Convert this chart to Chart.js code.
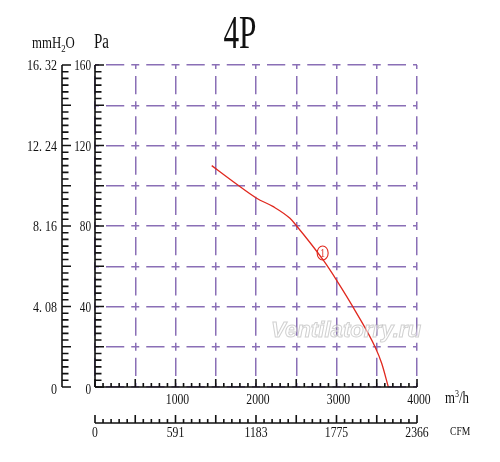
<!DOCTYPE html>
<html>
<head>
<meta charset="utf-8">
<script src="https://cdn.jsdelivr.net/npm/chart.js@4"></script>
<style>
  html, body { margin: 0; padding: 0; background: #fff; }
  canvas { display: block; }
</style>
</head>
<body>
<canvas id="fanChart" width="500" height="462"></canvas>
<script>
// ---------------------------------------------------------
// DATA
// ---------------------------------------------------------
const flowM3h = [1450, 1718, 2008, 2215, 2422, 2505, 2836, 3002, 3251, 3478, 3561, 3644];
const pressurePa = [110, 102, 93.8, 89.6, 83.8, 80, 63, 53, 36.6, 20, 11.8, 0];

const paTicks = [0, 40, 80, 120, 160];
const mmTicks = ['0', '4. 08', '8. 16', '12. 24', '16. 32'];
const m3hTicks = [1000, 2000, 3000, 4000];
const cfmTicks = ['0', '591', '1183', '1775', '2366'];
const cfmTickAt = [0, 1000, 2000, 3000, 4000];

const curveLabel = { x: 2828, y: 66.6, text: '1' };

// ---------------------------------------------------------
// HELPERS
// ---------------------------------------------------------
const SERIF = '"Liberation Serif", "Times New Roman", serif';

// condensed serif text, like the scanned catalogue chart
const drawText = (ctx, s, x, y, size, align, sx) => {
    ctx.save();
    ctx.font = size + 'px ' + SERIF;
    ctx.textBaseline = 'middle';
    ctx.textAlign = 'left';
    const w = ctx.measureText(s).width * sx;
    const x0 = align === 'center' ? x - w / 2 : align === 'right' ? x - w : x;
    ctx.translate(x0, y);
    ctx.scale(sx, 1);
    ctx.fillText(s, 0, 0);
    ctx.restore();
    return w;
};

const axesPlugin = {
    id: 'catalogueAxes',
    afterDraw(chart) {
        const ctx = chart.ctx;
        const xs = chart.scales.x;
        const ys = chart.scales.y;
        const x0 = xs.getPixelForValue(0);
        const x1 = xs.getPixelForValue(4000);
        const yTop = ys.getPixelForValue(160);
        const yBot = ys.getPixelForValue(0);
        const mmX = x0 - 33;
        const cfmY = yBot + 36;

        ctx.save();
        ctx.strokeStyle = '#111';
        ctx.fillStyle = '#111';
        ctx.lineWidth = 1.6;

        // vertical scales (mmH2O and Pa)
        [mmX, x0].forEach(ax => {
            ctx.beginPath();
            ctx.moveTo(ax, yTop);
            ctx.lineTo(ax, yBot);
            for (let i = 0; i <= 48; i++) {
                const py = ys.getPixelForValue(i * 160 / 48);
                const len = i % 6 === 0 ? 9 : 6.5;
                ctx.moveTo(ax, py);
                ctx.lineTo(ax + len, py);
            }
            ctx.stroke();
        });

        // horizontal scales (m3/h and CFM)
        [yBot, cfmY].forEach(ay => {
            ctx.beginPath();
            ctx.moveTo(x0, ay);
            ctx.lineTo(x1, ay);
            for (let v = 0; v <= 4000; v += 100) {
                const px = xs.getPixelForValue(v);
                const len = v % 500 === 0 ? 8 : 4;
                ctx.moveTo(px, ay);
                ctx.lineTo(px, ay - len);
            }
            ctx.stroke();
        });

        // y labels
        paTicks.forEach((v, i) => {
            const py = ys.getPixelForValue(v) + (v === 0 ? 3 : 1.5);
            drawText(ctx, String(v), x0 - 4, py, 15, 'right', 0.75);
            drawText(ctx, mmTicks[i], mmX - 5, py, 15, 'right', 0.8);
        });

        // x labels
        m3hTicks.forEach(v => {
            drawText(ctx, String(v), xs.getPixelForValue(v) + 2, yBot + 13, 15, 'center', 0.78);
        });
        cfmTicks.forEach((s, i) => {
            drawText(ctx, s, xs.getPixelForValue(cfmTickAt[i]), cfmY + 10, 15, 'center', 0.78);
        });

        // units
        let ux = x1 + 28;
        ux += drawText(ctx, 'm', ux, yBot + 12, 16, 'left', 0.8);
        ux += drawText(ctx, '3', ux, yBot + 7, 10, 'left', 0.8);
        drawText(ctx, '/h', ux, yBot + 12, 16, 'left', 0.8);
        drawText(ctx, 'CFM', x1 + 33, cfmY + 9, 12, 'left', 0.8);

        let hx = 32;
        hx += drawText(ctx, 'mmH', hx, 44, 16, 'left', 0.8);
        hx += drawText(ctx, '2', hx, 49, 11, 'left', 0.8);
        drawText(ctx, 'O', hx, 44, 16, 'left', 0.8);
        drawText(ctx, 'Pa', 94, 43, 20, 'left', 0.75);

        // title
        drawText(ctx, '4P', 240, 36, 46, 'center', 0.68);

        // curve number marker
        const cx = xs.getPixelForValue(curveLabel.x);
        const cy = ys.getPixelForValue(curveLabel.y);
        ctx.strokeStyle = '#e0281e';
        ctx.fillStyle = '#e0281e';
        ctx.lineWidth = 1.1;
        ctx.beginPath();
        ctx.ellipse(cx, cy, 5.5, 7, 0, 0, Math.PI * 2);
        ctx.stroke();
        drawText(ctx, curveLabel.text, cx, cy + 0.5, 12, 'center', 0.8);

        // watermark
        ctx.font = 'italic bold 22px "Liberation Sans", Arial, sans-serif';
        ctx.textBaseline = 'middle';
        ctx.textAlign = 'left';
        ctx.lineWidth = 1;
        ctx.strokeStyle = 'rgba(170,170,170,0.55)';
        ctx.fillStyle = 'rgba(255,255,255,0.55)';
        ctx.save();
        const ww = ctx.measureText('Ventilatorry.ru').width;
        ctx.translate(271, 331);
        ctx.scale(150 / ww, 1);
        ctx.fillText('Ventilatorry.ru', 0, 0);
        ctx.strokeText('Ventilatorry.ru', 0, 0);
        ctx.restore();

        ctx.restore();
    }
};

// ---------------------------------------------------------
// CHART
// ---------------------------------------------------------
const gridOpts = {
    color: '#8a6fb6',
    lineWidth: 1.5,
    drawTicks: false
};
// cross at every intersection, one long dash between
const dashOpts = {
    display: false,
    dash: [8, 7, 18.25, 7],
    dashOffset: 4
};

new Chart(document.getElementById('fanChart'), {
    type: 'line',
    data: {
        datasets: [{
            data: flowM3h.map((x, i) => ({ x, y: pressurePa[i] })),
            borderColor: '#e0281e',
            borderWidth: 1.3,
            pointRadius: 0,
            cubicInterpolationMode: 'monotone',
            fill: false
        }]
    },
    options: {
        responsive: false,
        animation: false,
        devicePixelRatio: 1,
        layout: { padding: { left: 95, right: 83, top: 65, bottom: 75 } },
        plugins: { legend: { display: false }, tooltip: { enabled: false } },
        scales: {
            x: {
                type: 'linear',
                min: 0,
                max: 4000,
                ticks: { display: false, stepSize: 500 },
                grid: gridOpts,
                border: dashOpts,
                afterFit: s => { s.height = 0; }
            },
            y: {
                type: 'linear',
                min: 0,
                max: 160,
                ticks: { display: false, stepSize: 20 },
                grid: gridOpts,
                border: dashOpts,
                afterFit: s => { s.width = 0; }
            }
        }
    },
    plugins: [axesPlugin]
});
</script>
</body>
</html>
